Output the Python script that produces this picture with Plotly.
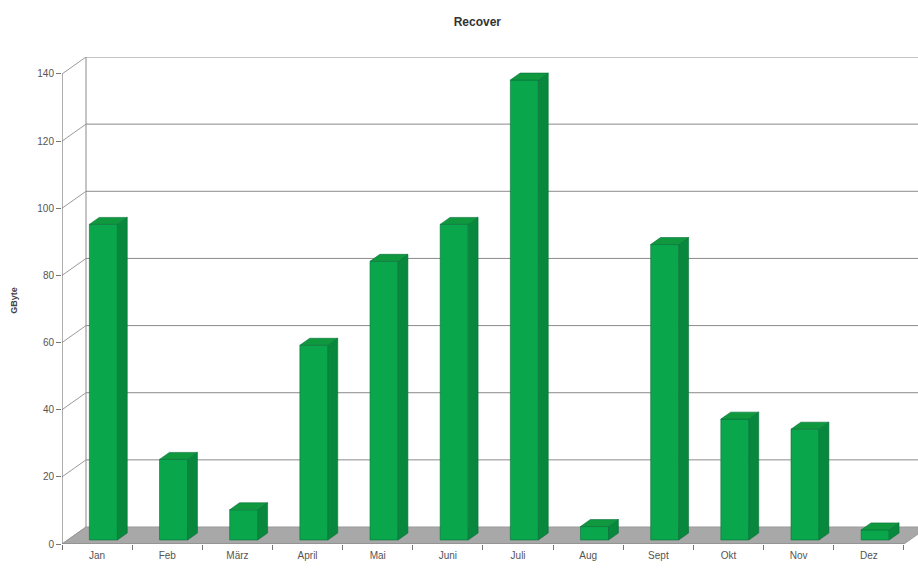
import plotly.graph_objects as go

months = ["Jan", "Feb", "März", "April", "Mai", "Juni", "Juli", "Aug", "Sept", "Okt", "Nov", "Dez"]
values = [94, 24, 9, 58, 83, 94, 137, 4, 88, 36, 33, 3]
y_ticks = [0, 20, 40, 60, 80, 100, 120, 140]

# pseudo-3D geometry (data units)
WALL_DX, WALL_DY = 0.342, 5.06     # depth of the floor / back wall
BAR_DX, BAR_DY = 0.14, 2.08        # depth of each bar
BAR_SHIFT_X, BAR_BASE = 0.09, 1.2  # bar front plane position
BAR_W = 0.40

FRONT = "#0aa64b"
SIDE = "#07883d"
TOP = "#10983f"
EDGE = "#06703a"
GRID = "#8a8a8a"

fig = go.Figure()

x0, x1 = -0.5, len(months) - 0.5
ymax = y_ticks[-1]
shapes = []

# back wall gridlines
for t in y_ticks[1:]:
    shapes.append(dict(type="line", xref="x", yref="y", layer="below",
                       x0=x0 + WALL_DX, x1=x1 + 2, y0=t + WALL_DY, y1=t + WALL_DY,
                       line=dict(color=GRID, width=1)))
# wall left edge
shapes.append(dict(type="line", xref="x", yref="y", layer="below",
                   x0=x0 + WALL_DX, x1=x0 + WALL_DX, y0=WALL_DY, y1=ymax + WALL_DY,
                   line=dict(color=GRID, width=1)))
# diagonal connectors from axis ticks to wall
for t in y_ticks:
    shapes.append(dict(type="line", xref="x", yref="y", layer="below",
                       x0=x0, x1=x0 + WALL_DX, y0=t, y1=t + WALL_DY,
                       line=dict(color="#9a9a9a", width=1)))
# floor
floor_path = "M {a},{b} L {c},{b} L {d},{e} L {f},{e} Z".format(
    a=x0, b=0, c=x1, d=x1 + WALL_DX, e=WALL_DY, f=x0 + WALL_DX)
shapes.append(dict(type="path", xref="x", yref="y", layer="below", path=floor_path,
                   fillcolor="#a8a8a8", line=dict(color="#999999", width=1)))
# front y axis line and x axis front line
shapes.append(dict(type="line", xref="x", yref="y", layer="below",
                   x0=x0, x1=x0, y0=0, y1=ymax, line=dict(color="#777777", width=1.2)))
shapes.append(dict(type="line", xref="x", yref="y", layer="below",
                   x0=x0, x1=x1, y0=0, y1=0, line=dict(color="#888888", width=1)))

# bars: side and top faces
for i, v in enumerate(values):
    xl = i + BAR_SHIFT_X - BAR_W / 2
    xr = i + BAR_SHIFT_X + BAR_W / 2
    yb = BAR_BASE
    yt = BAR_BASE + v
    fig.add_trace(go.Scatter(x=[xr, xr + BAR_DX, xr + BAR_DX, xr, xr],
                             y=[yb, yb + BAR_DY, yt + BAR_DY, yt, yb],
                             mode="lines", fill="toself", fillcolor=SIDE,
                             line=dict(color=EDGE, width=0.6),
                             hoverinfo="skip", showlegend=False))
    fig.add_trace(go.Scatter(x=[xl, xr, xr + BAR_DX, xl + BAR_DX, xl],
                             y=[yt, yt, yt + BAR_DY, yt + BAR_DY, yt],
                             mode="lines", fill="toself", fillcolor=TOP,
                             line=dict(color=EDGE, width=0.6),
                             hoverinfo="skip", showlegend=False))

# front faces
fig.add_trace(go.Bar(x=[i + BAR_SHIFT_X for i in range(len(months))],
                     y=values, base=BAR_BASE, width=BAR_W,
                     marker=dict(color=FRONT, line=dict(color=EDGE, width=0.6)),
                     showlegend=False, name="GByte"))

# x tick marks between categories (secondary axis, no labels)
fig.add_trace(go.Scatter(x=[x0, x1], y=[None, None], xaxis="x2", yaxis="y",
                         mode="lines", hoverinfo="skip", showlegend=False))

xr_max = x1 + 0.2
font = "Liberation Sans, Arial, sans-serif"
fig.update_layout(
    width=918, height=572,
    margin=dict(l=62, r=0, t=57, b=28),
    paper_bgcolor="white", plot_bgcolor="white",
    barmode="overlay",
    shapes=shapes,
    title=dict(text="<b>Recover</b>", x=0.52, xanchor="center", y=0.97, yanchor="top",
               font=dict(family=font, size=12, color="#333333")),
    xaxis=dict(range=[x0, xr_max], tickvals=list(range(len(months))), ticktext=months,
               showgrid=False, zeroline=False, showline=False, ticks="",
               tickfont=dict(family=font, size=10, color="#555555"), ticklabelstandoff=4),
    xaxis2=dict(range=[x0, xr_max], overlaying="x", side="bottom",
                tickvals=[k - 0.5 for k in range(len(months) + 1)], showticklabels=False,
                ticks="outside", ticklen=5, tickcolor="#777777",
                showgrid=False, zeroline=False, showline=False),
    yaxis=dict(range=[0, ymax + WALL_DY], tickvals=y_ticks, showgrid=False,
               zeroline=False, showline=False, ticks="outside", ticklen=5,
               tickcolor="#777777", tickfont=dict(family=font, size=10, color="#555555"),
               title=dict(text="<b>GByte</b>", font=dict(family=font, size=9, color="#444444"),
                          standoff=18)),
)

fig.write_html("out.html")
